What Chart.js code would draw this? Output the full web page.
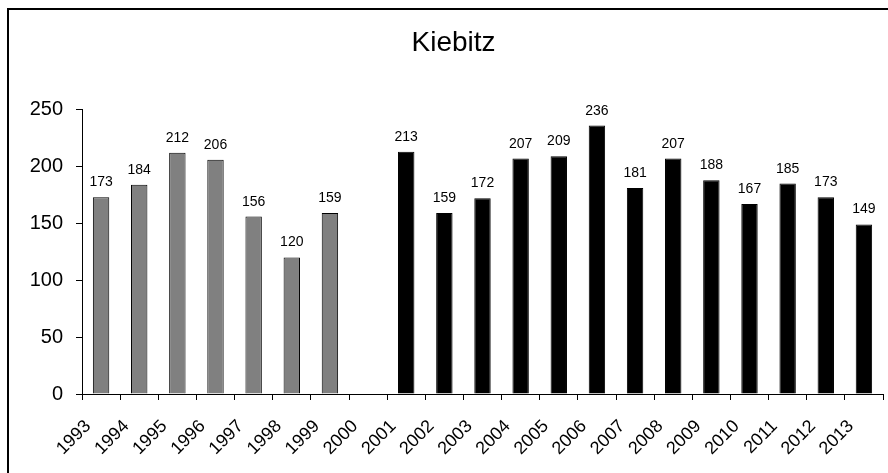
<!DOCTYPE html>
<html>
<head>
<meta charset="utf-8">
<script src="https://cdn.jsdelivr.net/npm/chart.js@4"></script>
<style>
    html, body { margin: 0; padding: 0; background: #fff; }
    #frame {
        position: absolute; left: 7px; top: 8px; width: 900px; height: 480px;
        border-left: 2px solid #000; border-top: 2px solid #000;
    }
    #wrap { position: absolute; left: 0; top: 0; width: 888px; height: 473px; }
</style>
</head>
<body>
<div id="frame"></div>
<div id="wrap"><canvas id="chart"></canvas></div>
<script>
// ---- Data -------------------------------------------------------------
const YEARS = ['1993', '1994', '1995', '1996', '1997', '1998', '1999', '2000', '2001', '2002', '2003',
    '2004', '2005', '2006', '2007', '2008', '2009', '2010', '2011', '2012', '2013'];
// first counting period (grey) and second period (black), no count in 2000
const COUNTS_EARLY = [173, 184, 212, 206, 156, 120, 159, null, null, null, null,
    null, null, null, null, null, null, null, null, null, null];
const COUNTS_LATE = [null, null, null, null, null, null, null, null, 213, 159, 172,
    207, 209, 236, 181, 207, 188, 167, 185, 173, 149];
const Y_TICKS = [0, 50, 100, 150, 200, 250];

const FONT = "'Liberation Sans', Arial, sans-serif";
Chart.defaults.font.family = FONT;
Chart.defaults.color = '#000';

// ---- value labels above the bars ---------------------------------------
const valueLabels = {
    id: 'valueLabels',
    afterDatasetsDraw(chart) {
        const ctx = chart.ctx;
        ctx.save();
        ctx.font = '14px ' + FONT;
        ctx.fillStyle = '#000';
        ctx.textAlign = 'center';
        ctx.textBaseline = 'alphabetic';
        chart.data.datasets.forEach((ds, i) => {
            chart.getDatasetMeta(i).data.forEach((bar, j) => {
                const v = ds.data[j];
                if (v == null) return;
                ctx.fillText(String(v), bar.x, bar.y - 11);
            });
        });
        ctx.restore();
    }
};

// ---- slanted year labels, Excel style (text ends left of the bar) -------
const slantedYears = {
    id: 'slantedYears',
    afterDraw(chart) {
        const scale = chart.scales.x;
        const ctx = chart.ctx;
        ctx.save();
        ctx.font = '18px ' + FONT;
        ctx.fillStyle = '#000';
        ctx.textAlign = 'right';
        ctx.textBaseline = 'alphabetic';
        chart.data.labels.forEach((lbl, i) => {
            ctx.save();
            ctx.translate(scale.getPixelForTick(i) - 9.5, scale.top + 33);
            ctx.rotate(-Math.PI / 4);
            ctx.fillText(lbl, 0, 0);
            ctx.restore();
        });
        ctx.restore();
    }
};

new Chart(document.getElementById('chart'), {
    type: 'bar',
    data: {
        labels: YEARS,
        datasets: [
            {
                data: COUNTS_EARLY,
                backgroundColor: '#808080',
                borderColor: '#000',
                borderWidth: 1,
            },
            {
                data: COUNTS_LATE,
                backgroundColor: '#000',
                borderColor: '#000',
                borderWidth: 1,
            }
        ]
    },
    options: {
        responsive: true,
        maintainAspectRatio: false,
        animation: false,
        devicePixelRatio: 1,
        layout: { padding: { left: 24, right: 5, top: 10, bottom: 0 } },
        datasets: {
            bar: { grouped: false, barPercentage: 0.43, categoryPercentage: 1, skipNull: true }
        },
        plugins: {
            legend: { display: false },
            tooltip: { enabled: false },
            title: {
                display: true,
                text: 'Kiebitz',
                color: '#000',
                font: { size: 28, weight: 'normal' },
                padding: { top: 16, bottom: 50 },
            }
        },
        scales: {
            x: {
                offset: true,
                grid: { offset: true, drawOnChartArea: false, drawTicks: true, tickLength: 6, color: '#000' },
                border: { display: true, color: '#000', width: 1 },
                ticks: { display: false, autoSkip: false },
                afterFit(scale) { scale.height = 79; }
            },
            y: {
                min: 0, max: 250,
                afterBuildTicks(scale) { scale.ticks = Y_TICKS.map(v => ({ value: v })); },
                grid: { drawOnChartArea: false, drawTicks: true, tickLength: 6, color: '#000' },
                border: { display: true, color: '#000', width: 1 },
                ticks: { padding: 13, font: { size: 20 }, color: '#000' },
                afterFit(scale) { scale.width = 58; }
            }
        }
    },
    plugins: [valueLabels, slantedYears]
});
</script>
</body>
</html>
